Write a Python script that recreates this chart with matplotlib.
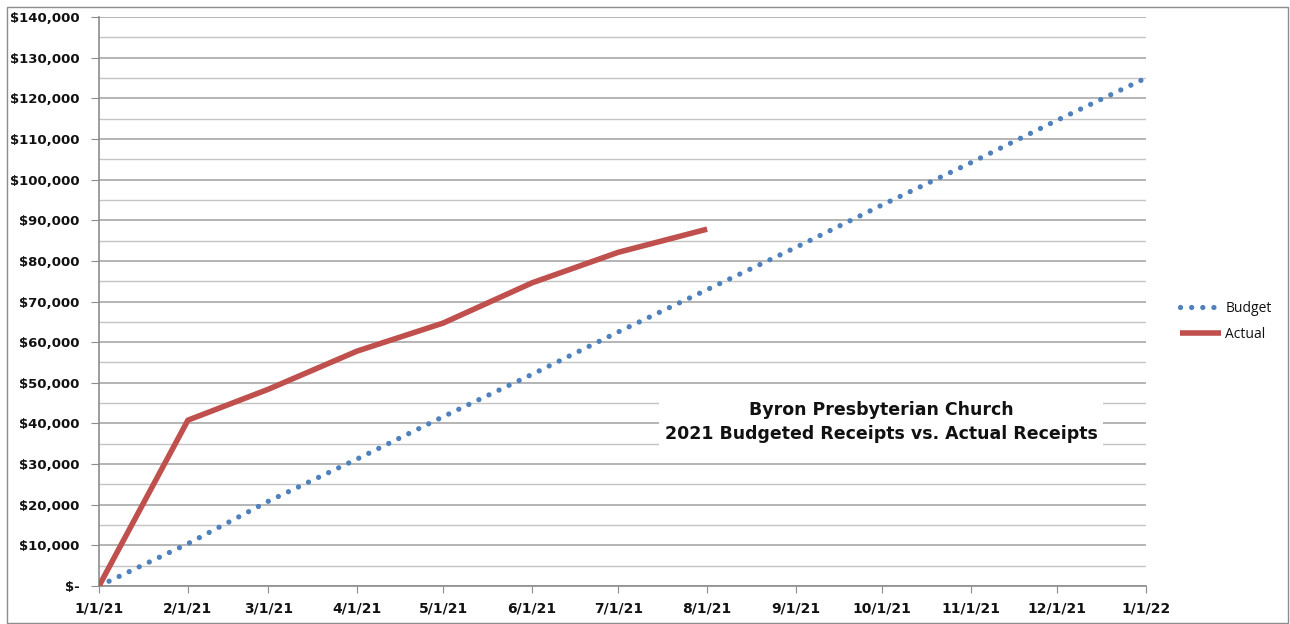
"""Byron Presbyterian Church - 2021 budgeted vs. actual cumulative receipts."""
import datetime as dt

import matplotlib
matplotlib.use("Agg")
import matplotlib.pyplot as plt
import matplotlib.dates as mdates
from matplotlib.patches import Rectangle
from matplotlib.ticker import FuncFormatter, MultipleLocator

# first-of-month dates (Jan 2021 .. Jan 2022)
MONTHS = [dt.date(2021, m, 1) for m in range(1, 13)] + [dt.date(2022, 1, 1)]

# cumulative budget
BUDGET = [0, 10417, 20833, 31250, 41667, 52083, 62500,
          72917, 83333, 93750, 104167, 114583, 125000]

# cumulative actual receipts, Jan through Aug
ACTUAL_DATES = MONTHS[:8]
ACTUAL = [0, 40800, 48400, 57800, 64700, 74600, 82100, 87800]

BLUE = "#4f81bd"
RED = "#c0504d"
GRID_MAJOR = "#a0a0a0"
GRID_MINOR = "#c4c4c4"
TEXT = "#111111"


def money(v, _pos):
    if abs(v) < 1:
        return "$-"
    return f"${v:,.0f}"


def main():
    fig = plt.figure(figsize=(12.9, 6.24), dpi=100)
    fig.patch.set_facecolor("white")
    fig.patches.append(Rectangle((7 / 1290, 1 / 624), 1281 / 1290, 616 / 624,
                                 transform=fig.transFigure, fill=False,
                                 edgecolor="#8c8c8c", linewidth=1))

    ax = fig.add_axes([99 / 1290, 38 / 624, 1047 / 1290, 569 / 624])

    ax.plot(MONTHS, BUDGET, color=BLUE, linewidth=3.8, linestyle=(0, (0.01, 2.1)),
            dash_capstyle="round", label="Budget", zorder=3)
    ax.plot(ACTUAL_DATES, ACTUAL, color=RED, linewidth=4.0,
            solid_capstyle="butt", label="Actual", zorder=4)

    ax.set_xlim(mdates.date2num(MONTHS[0]), mdates.date2num(MONTHS[-1]))
    ax.set_ylim(0, 140000)
    ax.xaxis.set_major_locator(mdates.MonthLocator())
    ax.xaxis.set_major_formatter(FuncFormatter(
        lambda x, _p: f"{mdates.num2date(x).month}/1/{mdates.num2date(x).year % 100}"))
    ax.yaxis.set_major_locator(MultipleLocator(10000))
    ax.yaxis.set_minor_locator(MultipleLocator(5000))
    ax.yaxis.set_major_formatter(FuncFormatter(money))

    ax.grid(axis="y", which="major", color=GRID_MAJOR, linewidth=1.1, zorder=0)
    ax.grid(axis="y", which="minor", color=GRID_MINOR, linewidth=1.0, zorder=0)
    ax.set_axisbelow(True)

    for side in ("top", "right"):
        ax.spines[side].set_visible(False)
    for side in ("left", "bottom"):
        ax.spines[side].set_color("#8c8c8c")
        ax.spines[side].set_linewidth(1.2)

    ax.tick_params(axis="y", which="major", length=6, color="#8c8c8c", pad=8)
    ax.tick_params(axis="y", which="minor", length=0)
    ax.tick_params(axis="x", length=5, color="#8c8c8c", pad=6)
    for lab in ax.get_yticklabels():
        lab.set_fontfamily("DejaVu Sans")
        lab.set_fontweight("bold")
        lab.set_fontsize(9.5)
        lab.set_color(TEXT)
    for lab in ax.get_xticklabels():
        lab.set_fontfamily("DejaVu Sans")
        lab.set_fontweight("bold")
        lab.set_fontsize(10)
        lab.set_color(TEXT)

    ax.text(0.747, 0.288, "Byron Presbyterian Church\n2021 Budgeted Receipts vs. Actual Receipts",
            transform=ax.transAxes, ha="center", va="center", fontsize=12.5,
            fontweight="bold", family="DejaVu Sans", color=TEXT, linespacing=1.45,
            bbox=dict(boxstyle="square,pad=0.3", facecolor="white", edgecolor="none"),
            zorder=5)

    leg = fig.legend(loc="upper left", bbox_to_anchor=(1167 / 1290, 1 - 288 / 624),
                     frameon=False, handlelength=3.0, handletextpad=0.3,
                     labelspacing=0.8, prop={"family": "Open Sans", "size": 10})
    for t in leg.get_texts():
        t.set_color(TEXT)

    fig.savefig("out.png", dpi=100, facecolor="white")
    plt.close(fig)


if __name__ == "__main__":
    main()
